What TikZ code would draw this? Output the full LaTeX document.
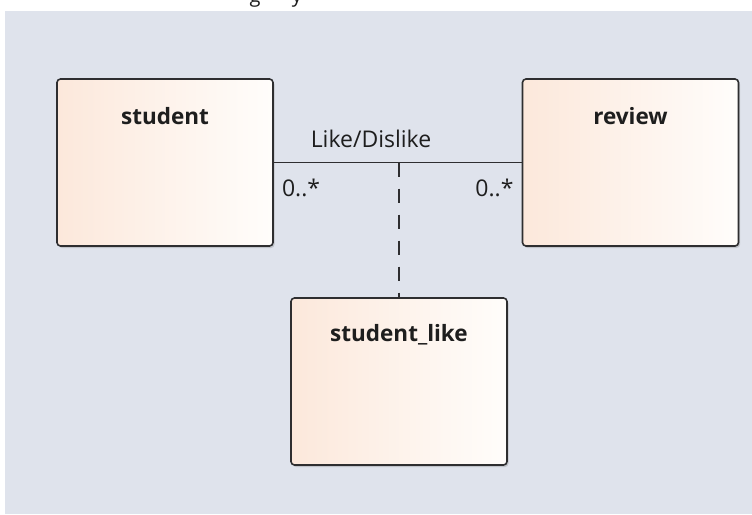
\documentclass[tikz,border=0pt]{standalone}
\usepackage{fontspec}
\setmainfont{Open Sans}
\usetikzlibrary{shadows}
\definecolor{canvas}{HTML}{DFE3EC}
\definecolor{peach}{HTML}{FCE8DB}
\definecolor{cream}{HTML}{FFFDFB}
\definecolor{edge}{HTML}{2E2E30}
\definecolor{ink}{HTML}{1E1E1E}
\tikzset{
  entity/.style={draw=edge, line width=1.6pt, rounded corners=3.5pt,
    left color=peach, right color=cream, minimum width=216pt,
    minimum height=167pt, inner sep=0pt,
    drop shadow={shadow xshift=1.5pt, shadow yshift=-2pt, opacity=0.25, fill=black!60}},
  title/.style={font=\bfseries\fontsize{22.5}{26}\selectfont, text=ink, anchor=center},
  assoc/.style={draw=edge, line width=1.4pt},
  linkline/.style={draw=edge, line width=1.4pt, dash pattern=on 14pt off 12pt},
  mult/.style={font=\fontsize{23}{26}\selectfont, text=ink, inner sep=0pt},
}
\begin{document}
\begin{tikzpicture}[x=1pt, y=-1pt]
  \useasboundingbox (0,0) rectangle (752,514);
  % page and diagram canvas
  \fill[white] (0,0) rectangle (752,514);
  \fill[canvas] (5,11) rectangle (752,514);
  % descenders of the cut-off caption line above the canvas
  \begin{scope}
    \clip (0,0) rectangle (752,10.5);
    \node[font=\fontsize{20}{24}\selectfont, anchor=base, text=ink] (capg) at (255,2) {g};
    \node[font=\fontsize{20}{24}\selectfont, anchor=base, text=ink] (capy) at (297,2) {y};
  \end{scope}

  % classes
  \node[entity] (student) at (165,162.5) {};
  \node[entity] (review) at (630.5,162.5) {};
  \node[entity] (studentlike) at (399,381.5) {};
  \node[title] (tstudent) at ([yshift=-38pt]student.north) {student};
  \node[title] (treview) at ([yshift=-38pt]review.north) {review};
  \node[title] (tstudentlike) at ([yshift=-38pt]studentlike.north) {student\_like};

  % association and its link to the association class
  \draw[assoc] (student.east) -- (review.west);
  \coordinate (joint) at (studentlike.north |- student.east);
  \draw[linkline] (joint) -- (studentlike.north);

  % labels
  \node[mult] (name) at (371,139) {Like/Dislike};
  \node[mult, anchor=west] (mleft) at ([xshift=8pt, yshift=-25pt]student.east) {0..*};
  \node[mult, anchor=east] (mright) at ([xshift=-8pt, yshift=-25pt]review.west) {0..*};
\end{tikzpicture}
\end{document}
